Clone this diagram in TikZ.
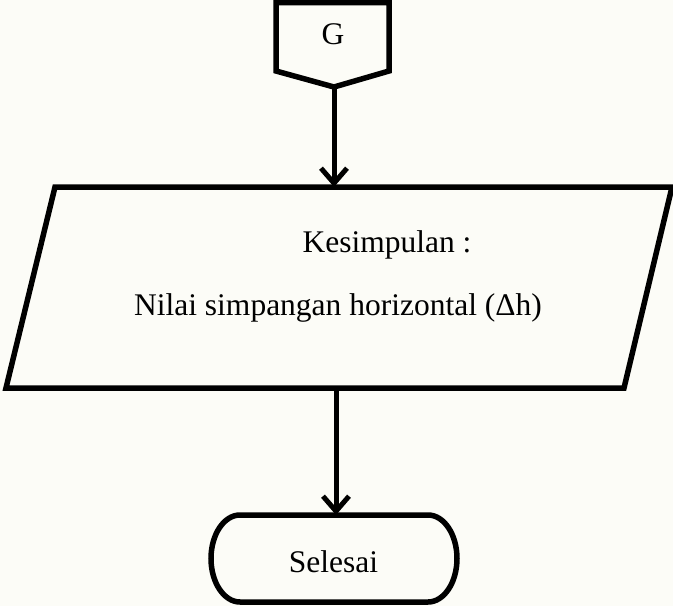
\documentclass[tikz,border=0pt]{standalone}
\usepackage{fontspec}
\setmainfont{Liberation Serif}
\usetikzlibrary{arrows.meta}
\definecolor{paper}{RGB}{252,252,247}
\tikzset{
  shapeline/.style={line width=5.5pt, line join=miter, draw=black},
  flow/.style={line width=5pt, -{Straight Barb[length=15pt, width=26pt, line width=5pt]}},
  label/.style={inner sep=0pt, anchor=base, font=\fontsize{31.5}{36}\selectfont},
}
\begin{document}
\begin{tikzpicture}[x=1pt, y=1pt]
  % page
  \fill[paper] (0,0) rectangle (673,-606);
  \useasboundingbox (0,0) rectangle (673,-606);

  % off-page connector G
  \draw[shapeline] (276,-2.5) -- (389,-2.5) -- (389,-71) -- (334,-87) -- (276,-71) -- cycle;
  \coordinate (gbot) at (334,-87);
  \node[label] (g) at (333,-44) {G};

  % output parallelogram
  \draw[shapeline] (55,-187) -- (672,-187) -- (624,-388) -- (6,-388) -- cycle;
  \coordinate (iotop) at (334,-187);
  \coordinate (iobot) at (336,-388);
  \node[label] (kes) at (387,-252) {Kesimpulan :};
  \node[label] (nilai) at (338,-315) {Nilai simpangan horizontal (Δh)};

  % terminator
  \draw[shapeline] (240,-515) -- (428,-515)
    arc[start angle=90, end angle=-90, x radius=29, y radius=43.5]
    -- (240,-602)
    arc[start angle=270, end angle=90, x radius=29, y radius=43.5] -- cycle;
  \coordinate (endtop) at (336,-515);
  \node[label] (selesai) at (333.5,-572) {Selesai};

  % connectors
  \draw[flow] (gbot) -- (iotop);
  \draw[flow] (iobot) -- (endtop);
\end{tikzpicture}
\end{document}
